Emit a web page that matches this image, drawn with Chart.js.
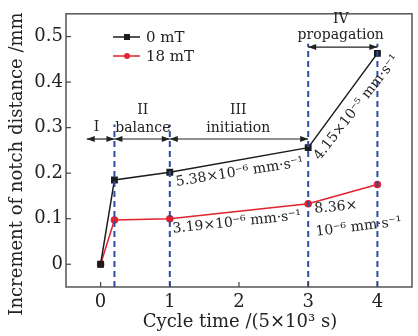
<!DOCTYPE html>
<html>
<head>
<meta charset="utf-8">
<script src="https://cdn.jsdelivr.net/npm/chart.js@4"></script>
<style>
  html, body { margin: 0; padding: 0; background: #fff; }
  #box { width: 418px; height: 336px; }
</style>
</head>
<body>
<div id="box"><canvas id="grafico" width="418" height="336"></canvas></div>
<script>
// dados
const cycleTime = [0, 0.2, 1, 3, 4];
const notch0mT = [0, 0.185, 0.202, 0.256, 0.463];
const notch18mT = [0, 0.097, 0.100, 0.133, 0.175];
const seriesNames = ['0 mT', '18 mT'];
const stageBounds = [0.2, 1, 3, 4];
const stageTops = [0.307, 0.307, 0.484, 0.484];
const xTicks = [0, 1, 2, 3, 4];
const yTicks = [0, 0.1, 0.2, 0.3, 0.4, 0.5];
const xTitle = 'Cycle time /(5×10³ s)';
const yTitle = 'Increment of notch distance /mm';

// anotações (posição em unidades do gráfico)
const stageTexts = [
  { t: 'I', x: -0.06, y: 0.300 },
  { t: 'II', x: 0.61, y: 0.338 },
  { t: 'balance', x: 0.61, y: 0.299 },
  { t: 'III', x: 1.99, y: 0.338 },
  { t: 'initiation', x: 1.99, y: 0.299 },
  { t: 'IV', x: 3.47, y: 0.538 },
  { t: 'propagation', x: 3.47, y: 0.503 }
];
const stageArrows = [
  { x1: -0.2, x2: 0.2, y: 0.275 },
  { x1: 0.2, x2: 1, y: 0.275 },
  { x1: 1, x2: 3, y: 0.275 },
  { x1: 3, x2: 4, y: 0.477 }
];
const rateTexts = [
  { t: '5.38×10⁻⁶ mm·s⁻¹', x: 2.01, y: 0.202, ang: -9 },
  { t: '3.19×10⁻⁶ mm·s⁻¹', x: 1.97, y: 0.092, ang: -6 },
  { t: '8.36×', x: 3.40, y: 0.125, ang: -5 },
  { t: '10⁻⁶ mm·s⁻¹', x: 3.73, y: 0.082, ang: -7 },
  { t: '4.15×10⁻⁵ mm·s⁻¹', x: 3.70, y: 0.344, ang: -52 }
];

const FONTE = '"DejaVu Serif", serif';
const COR_TEXTO = '#222';

function pontos(xs, ys) {
  return xs.map((x, i) => ({ x: x, y: ys[i] }));
}

let datasets = [];
stageBounds.forEach((b, i) => {
  datasets.push({
    data: [{ x: b, y: -0.05 }, { x: b, y: stageTops[i] }],
    borderColor: '#2b4ea3',
    borderWidth: 2,
    borderDash: [6, 4],
    pointRadius: 0,
    showLine: true
  });
});
datasets.push({
  label: seriesNames[0],
  data: pontos(cycleTime, notch0mT),
  borderColor: '#1c1c1c',
  backgroundColor: '#1c1c1c',
  borderWidth: 1.5,
  pointStyle: 'rect',
  pointRadius: 3.8,
  showLine: true
});
datasets.push({
  label: seriesNames[1],
  data: pontos(cycleTime, notch18mT),
  borderColor: '#e3222e',
  backgroundColor: '#e3222e',
  borderWidth: 1.5,
  pointStyle: 'circle',
  pointRadius: 3,
  showLine: true
});

function seta(ctx, x1, x2, y) {
  ctx.beginPath();
  ctx.moveTo(x1, y);
  ctx.lineTo(x2, y);
  ctx.stroke();
  [[x1, 1], [x2, -1]].forEach(([x, d]) => {
    ctx.beginPath();
    ctx.moveTo(x, y);
    ctx.lineTo(x + d * 8, y - 3);
    ctx.lineTo(x + d * 8, y + 3);
    ctx.closePath();
    ctx.fill();
  });
}

const extras = {
  id: 'extras',
  afterDatasetsDraw(chart) {
    const ctx = chart.ctx;
    const xs = chart.scales.x, ys = chart.scales.y;
    const a = chart.chartArea;
    ctx.save();

    // moldura
    ctx.strokeStyle = '#555';
    ctx.lineWidth = 1.5;
    ctx.strokeRect(a.left, a.top, a.right - a.left, a.bottom - a.top);

    // ticks para dentro
    ctx.strokeStyle = '#444';
    ctx.lineWidth = 1.2;
    xTicks.forEach(v => {
      let px = xs.getPixelForValue(v);
      ctx.beginPath(); ctx.moveTo(px, a.bottom); ctx.lineTo(px, a.bottom - 5); ctx.stroke();
    });
    yTicks.forEach(v => {
      let py = ys.getPixelForValue(v);
      ctx.beginPath(); ctx.moveTo(a.left, py); ctx.lineTo(a.left + 5, py); ctx.stroke();
    });

    // setas das fases
    ctx.strokeStyle = '#222';
    ctx.fillStyle = '#222';
    ctx.lineWidth = 1.2;
    stageArrows.forEach(s => {
      seta(ctx, xs.getPixelForValue(s.x1), xs.getPixelForValue(s.x2), ys.getPixelForValue(s.y));
    });

    // textos das fases
    ctx.fillStyle = COR_TEXTO;
    ctx.font = '14px ' + FONTE;
    ctx.textAlign = 'center';
    ctx.textBaseline = 'middle';
    stageTexts.forEach(s => {
      ctx.fillText(s.t, xs.getPixelForValue(s.x), ys.getPixelForValue(s.y));
    });

    // taxas
    ctx.font = '14px ' + FONTE;
    rateTexts.forEach(r => {
      ctx.save();
      ctx.translate(xs.getPixelForValue(r.x), ys.getPixelForValue(r.y));
      ctx.rotate(r.ang * Math.PI / 180);
      ctx.fillText(r.t, 0, 0);
      ctx.restore();
    });

    // legenda
    ctx.font = '15px ' + FONTE;
    ctx.textAlign = 'left';
    const cores = ['#1c1c1c', '#e3222e'];
    [37, 56].forEach((ly, i) => {
      ctx.strokeStyle = cores[i];
      ctx.fillStyle = cores[i];
      ctx.lineWidth = 1.5;
      ctx.beginPath(); ctx.moveTo(113, ly); ctx.lineTo(140, ly); ctx.stroke();
      ctx.beginPath();
      if (i == 0) ctx.rect(124, ly - 3, 6, 6);
      else ctx.arc(127, ly, 3, 0, Math.PI * 2);
      ctx.fill();
      ctx.fillStyle = COR_TEXTO;
      ctx.fillText(seriesNames[i], 146, ly + 1);
    });

    // títulos dos eixos
    ctx.font = '18px ' + FONTE;
    ctx.textAlign = 'center';
    ctx.fillText(xTitle, 240, 322);
    ctx.save();
    ctx.translate(17, 164);
    ctx.rotate(-Math.PI / 2);
    ctx.fillText(yTitle, 0, 0);
    ctx.restore();

    ctx.restore();
  }
};

new Chart(document.getElementById('grafico'), {
  type: 'line',
  data: { datasets: datasets },
  options: {
    responsive: false,
    devicePixelRatio: 1,
    animation: false,
    layout: { padding: { top: 10, right: 6, left: 0, bottom: 0 } },
    plugins: { legend: { display: false }, tooltip: { enabled: false } },
    scales: {
      x: {
        type: 'linear',
        min: -0.5,
        max: 4.5,
        afterBuildTicks: s => { s.ticks = xTicks.map(v => ({ value: v })); },
        afterFit: s => { s.height = 49; },
        grid: { display: false, drawTicks: false },
        border: { display: false },
        ticks: { padding: 5, color: COR_TEXTO, font: { family: FONTE, size: 18 }, callback: v => String(v) }
      },
      y: {
        min: -0.05,
        max: 0.55,
        afterBuildTicks: s => { s.ticks = yTicks.map(v => ({ value: v })); },
        afterFit: s => { s.width = 66; },
        grid: { display: false, drawTicks: false },
        border: { display: false },
        ticks: { padding: 3, color: COR_TEXTO, font: { family: FONTE, size: 18 }, callback: v => String(v) }
      }
    }
  },
  plugins: [extras]
});
</script>
</body>
</html>
